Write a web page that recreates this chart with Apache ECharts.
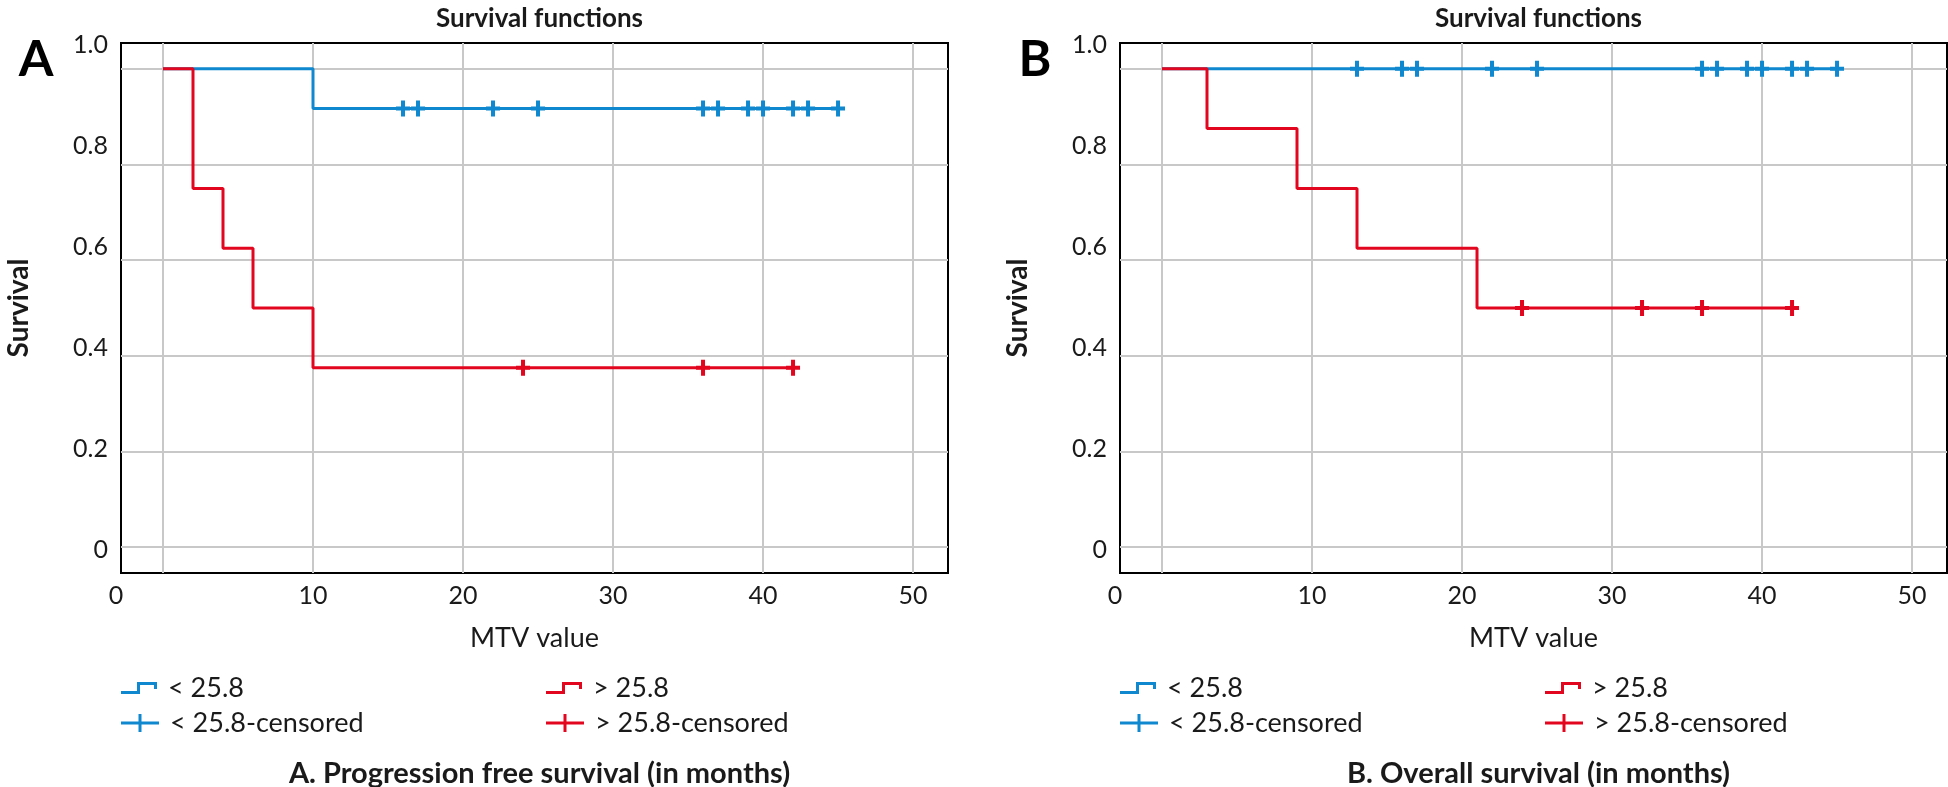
<!DOCTYPE html>
<html>
<head>
<meta charset="utf-8">
<script src="https://cdn.jsdelivr.net/npm/echarts@6/dist/echarts.min.js"></script>
<style>
  html, body { margin: 0; padding: 0; background: #fff; }
  #chart { width: 1948px; height: 787px; }
</style>
</head>
<body>
<div id="chart"></div>
<script>
// ---------- data ----------
// Panel A: progression free survival
const pfsLowTimes = [0, 10, 45];
const pfsLowSurv = [1, 0.917, 0.917];
const pfsHighTimes = [0, 2, 4, 6, 10, 42];
const pfsHighSurv = [1, 0.75, 0.625, 0.5, 0.375, 0.375];
const pfsLowCensTimes = [16, 17, 22, 25, 36, 37, 39, 40, 42, 43, 45];
const pfsLowCensSurv = [0.917, 0.917, 0.917, 0.917, 0.917, 0.917, 0.917, 0.917, 0.917, 0.917, 0.917];
const pfsHighCensTimes = [24, 36, 42];
const pfsHighCensSurv = [0.375, 0.375, 0.375];

// Panel B: overall survival
const osLowTimes = [0, 45];
const osLowSurv = [1, 1];
const osHighTimes = [0, 3, 9, 13, 21, 42];
const osHighSurv = [1, 0.875, 0.75, 0.625, 0.5, 0.5];
const osLowCensTimes = [13, 16, 17, 22, 25, 36, 37, 39, 40, 42, 43, 45];
const osLowCensSurv = [1, 1, 1, 1, 1, 1, 1, 1, 1, 1, 1, 1];
const osHighCensTimes = [24, 32, 36, 42];
const osHighCensSurv = [0.5, 0.5, 0.5, 0.5];

// axes / ticks
const xGridValues = [0, 10, 20, 30, 40, 50];
const xTickLabels = [0, 10, 20, 30, 40, 50];
const yGridValues = [0, 0.2, 0.4, 0.6, 0.8, 1.0];
const yTickLabels = [0, 0.2, 0.4, 0.6, 0.8, 1.0];

const panelLetters = ['A', 'B'];
const panelTitles = ['Survival functions', 'Survival functions'];
const panelCaptions = ['A. Progression free survival (in months)', 'B. Overall survival (in months)'];
const groupNames = ['< 25.8', '> 25.8'];
const censorNames = ['< 25.8-censored', '> 25.8-censored'];
const xAxisName = 'MTV value';
const yAxisName = 'Survival';

// ---------- styling ----------
const BLUE = '#0f88cf';
const RED = '#e3061f';
const GRIDC = '#c8c8c8';
const TXT = '#1a1a1a';
const FONT = 'Lato';

const panelLeft = [121, 1120];
const gridTop = 43, gridW = 827, gridH = 530;
const X_MIN = -2.8, X_MAX = 52.33;
const Y_MIN = -0.054, Y_MAX = 1.054;
const YL_MIN = -0.0455, YL_MAX = 1.004;

const PLUS = 'path://M5,0H9V6H14V10H9V16H5V10H0V6H5Z';
const STEP_ICON = 'path://M0,9H16V0H36V7H33V3H19V12H0Z';
const PLUS_ICON = 'path://M0,7.5H38V10.5H0ZM17.5,0H20.5V18H17.5Z';

function zip(t, s) { return t.map((v, i) => [v, s[i]]); }

const panels = [
  { low: zip(pfsLowTimes, pfsLowSurv), high: zip(pfsHighTimes, pfsHighSurv),
    lowC: zip(pfsLowCensTimes, pfsLowCensSurv), highC: zip(pfsHighCensTimes, pfsHighCensSurv) },
  { low: zip(osLowTimes, osLowSurv), high: zip(osHighTimes, osHighSurv),
    lowC: zip(osLowCensTimes, osLowCensSurv), highC: zip(osHighCensTimes, osHighCensSurv) }
];

const xLabelPositions = xTickLabels.map(v => v === 0 ? X_MIN : v);

const title = [], legend = [], grid = [], xAxis = [], yAxis = [], series = [];

panels.forEach((p, i) => {
  const L = panelLeft[i];
  const cx = L + gridW / 2;
  title.push({ text: panelTitles[i], left: cx, top: 1, textAlign: 'center',
    textStyle: { fontFamily: FONT, fontSize: 26, fontWeight: 'bold', color: TXT } });
  title.push({ text: panelLetters[i], left: L - 90, top: 30, textAlign: 'center',
    textStyle: { fontFamily: FONT, fontSize: 50, fontWeight: 'bold', color: '#000' } });
  title.push({ text: panelCaptions[i], left: cx, top: 754, textAlign: 'center',
    textStyle: { fontFamily: FONT, fontSize: 29, fontWeight: 'bold', color: TXT } });

  const legText = { fontFamily: FONT, fontSize: 27, color: TXT, padding: [0, 0, 0, 6], lineHeight: 30 };
  const legPos = [[L, 673, groupNames[0], STEP_ICON, 36, 12],
                  [L + 425, 673, groupNames[1], STEP_ICON, 36, 12],
                  [L, 708, censorNames[0], PLUS_ICON, 38, 18],
                  [L + 425, 708, censorNames[1], PLUS_ICON, 38, 18]];
  legPos.forEach(lp => {
    legend.push({ data: [{ name: lp[2], icon: lp[3] }], left: lp[0], top: lp[1], padding: 0,
      itemWidth: lp[4], itemHeight: lp[5], selectedMode: false, symbolKeepAspect: false,
      textStyle: legText });
  });

  grid.push({ left: L, top: gridTop, width: gridW, height: gridH, show: true,
    borderColor: '#000', borderWidth: 2, backgroundColor: 'transparent' });

  xAxis.push({ type: 'value', gridIndex: i, min: X_MIN, max: X_MAX,
    axisLine: { show: false },
    axisTick: { show: false, customValues: xGridValues },
    splitLine: { show: true, lineStyle: { color: GRIDC, width: 2 } },
    axisLabel: { customValues: xLabelPositions, showMinLabel: true, showMaxLabel: true, margin: 10,
      fontFamily: FONT, fontSize: 25, color: TXT,
      formatter: v => v < 0 ? '{z|0}' : String(v),
      rich: { z: { fontFamily: FONT, fontSize: 25, color: TXT, padding: [0, 10, 0, 0] } } },
    name: xAxisName, nameLocation: 'middle', nameGap: 52,
    nameTextStyle: { fontFamily: FONT, fontSize: 27, color: TXT } });

  // data axis (grid lines)
  yAxis.push({ type: 'value', gridIndex: i, min: Y_MIN, max: Y_MAX, position: 'left',
    axisLine: { show: false },
    axisTick: { show: false, customValues: yGridValues },
    axisLabel: { show: false },
    splitLine: { show: true, lineStyle: { color: GRIDC, width: 2 } } });
  // label axis (tick labels as printed in the original)
  yAxis.push({ type: 'value', gridIndex: i, min: YL_MIN, max: YL_MAX, position: 'left', offset: 0,
    axisLine: { show: false }, axisTick: { show: false }, splitLine: { show: false },
    axisLabel: { customValues: yTickLabels, showMinLabel: true, showMaxLabel: true, margin: 13,
      fontFamily: FONT, fontSize: 25, color: TXT,
      formatter: v => v === 0 ? '0' : v.toFixed(1) },
    name: yAxisName, nameLocation: 'middle', nameRotate: 90, nameGap: 88,
    nameTextStyle: { fontFamily: FONT, fontSize: 28, fontWeight: 'bold', color: TXT } });

  const yi = i * 2;
  series.push({ name: groupNames[0], type: 'line', step: 'end', xAxisIndex: i, yAxisIndex: yi,
    data: p.low, symbol: 'none', lineStyle: { color: BLUE, width: 3 }, itemStyle: { color: BLUE }, z: 3 });
  series.push({ name: groupNames[1], type: 'line', step: 'end', xAxisIndex: i, yAxisIndex: yi,
    data: p.high, symbol: 'none', lineStyle: { color: RED, width: 3 }, itemStyle: { color: RED }, z: 4 });
  series.push({ name: censorNames[0], type: 'scatter', xAxisIndex: i, yAxisIndex: yi,
    data: p.lowC, symbol: PLUS, symbolSize: [14, 16], itemStyle: { color: BLUE, opacity: 1 }, z: 5 });
  series.push({ name: censorNames[1], type: 'scatter', xAxisIndex: i, yAxisIndex: yi,
    data: p.highC, symbol: PLUS, symbolSize: [14, 16], itemStyle: { color: RED, opacity: 1 }, z: 6 });
});

const chart = echarts.init(document.getElementById('chart'), null, { renderer: 'canvas' });
chart.setOption({
  animation: false,
  backgroundColor: '#ffffff',
  textStyle: { fontFamily: FONT },
  title, legend, grid, xAxis, yAxis, series
});
</script>
</body>
</html>
